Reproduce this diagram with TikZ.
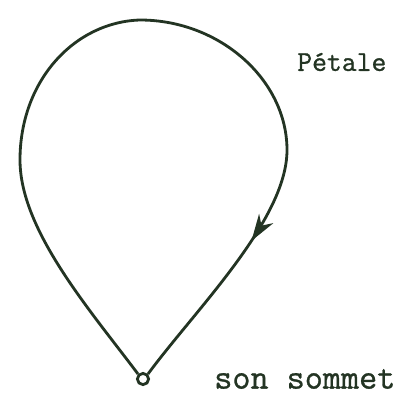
\documentclass[tikz,border=0pt]{standalone}
\usepackage{fontspec}
\newfontfamily\machine{Latin Modern Mono}[FakeBold=0.9]
\usetikzlibrary{arrows.meta, decorations.markings}
\definecolor{encre}{RGB}{35,52,35}
\begin{document}
\begin{tikzpicture}[x=0.025cm,y=-0.025cm,
    petale/.style={encre,line width=2pt},
    etiquette/.style={encre,inner sep=0pt,anchor=west}]
        \useasboundingbox (0,0) rectangle (414,396);
        %sommet du petale
        \node[circle,draw=encre,line width=2pt,inner sep=0pt,minimum size=8pt] (sommet) at (143,379) {};
        %etiquettes
        \node[etiquette,font=\machine\fontsize{20.5}{24}\selectfont] (lpetale) at (297,62) {Pétale};
        \node[etiquette,font=\machine\fontsize{25}{30}\selectfont] (lsommet) at (214,379) {son sommet};
        %contour du petale
        \draw[petale,postaction={decorate},decoration={markings,
            mark=at position 0.82 with {\arrow{Stealth[length=19pt,width=12pt,inset=6pt]}}}]
            (sommet.north west) .. controls (90,310) and (20,230) .. (20,160)
            .. controls (20,80) and (75,22) .. (140,20)
            .. controls (220,20) and (287,80) .. (287,150)
            .. controls (287,220) and (195,310) .. (sommet.north east);
\end{tikzpicture}
\end{document}
